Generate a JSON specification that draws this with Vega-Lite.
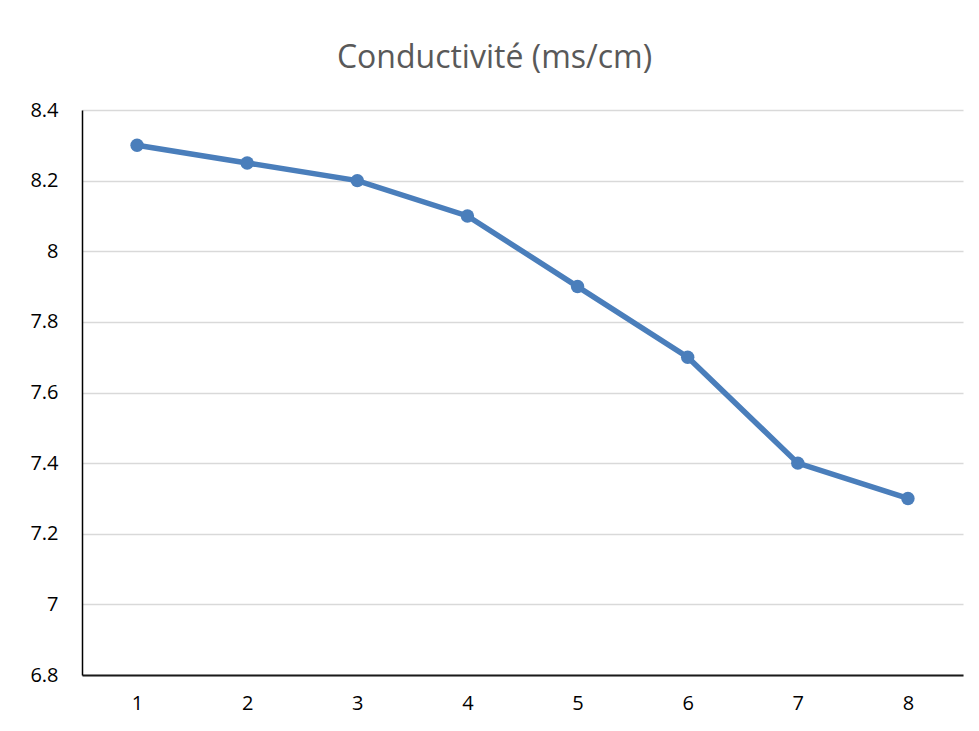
{
  "$schema": "https://vega.github.io/schema/vega-lite/v6.json",
  "width": 881,
  "height": 565,
  "autosize": {"type": "none"},
  "padding": {"left": 82, "top": 110, "right": 16, "bottom": 56},
  "background": "white",
  "title": {
    "text": "Conductivité (ms/cm)",
    "font": "Open Sans",
    "fontSize": 32,
    "fontWeight": "normal",
    "color": "#595959",
    "anchor": "middle",
    "baseline": "alphabetic",
    "dx": -28,
    "offset": 0
  },
  "data": {
    "values": [
      {"mesure": 1, "conductivite": 8.3},
      {"mesure": 2, "conductivite": 8.25},
      {"mesure": 3, "conductivite": 8.2},
      {"mesure": 4, "conductivite": 8.1},
      {"mesure": 5, "conductivite": 7.9},
      {"mesure": 6, "conductivite": 7.7},
      {"mesure": 7, "conductivite": 7.4},
      {"mesure": 8, "conductivite": 7.3}
    ]
  },
  "encoding": {
    "x": {
      "field": "mesure",
      "type": "ordinal",
      "scale": {"padding": 0.5},
      "axis": {
        "title": null,
        "labelAngle": 0,
        "ticks": false,
        "grid": false,
        "labelFont": "Open Sans",
        "labelFontSize": 20,
        "labelColor": "#000000",
        "labelPadding": 18,
        "domainColor": "#1a1a1a",
        "domainWidth": 2
      }
    },
    "y": {
      "field": "conductivite",
      "type": "quantitative",
      "scale": {"domain": [6.8, 8.4], "nice": false, "zero": false},
      "axis": {
        "title": null,
        "values": [6.8, 7, 7.2, 7.4, 7.6, 7.8, 8, 8.2, 8.4],
        "format": ".1~f",
        "ticks": false,
        "grid": true,
        "gridColor": "#d9d9d9",
        "gridWidth": 1.5,
        "labelFont": "Open Sans",
        "labelFontSize": 20,
        "labelColor": "#000000",
        "labelPadding": 24,
        "domainColor": "#000000",
        "domainWidth": 1.5
      }
    }
  },
  "layer": [
    {"mark": {"type": "line", "color": "#4a7ebb", "strokeWidth": 5.5}},
    {"mark": {"type": "point", "filled": true, "color": "#4a7ebb", "size": 180, "opacity": 1}}
  ],
  "config": {"view": {"stroke": null}}
}
